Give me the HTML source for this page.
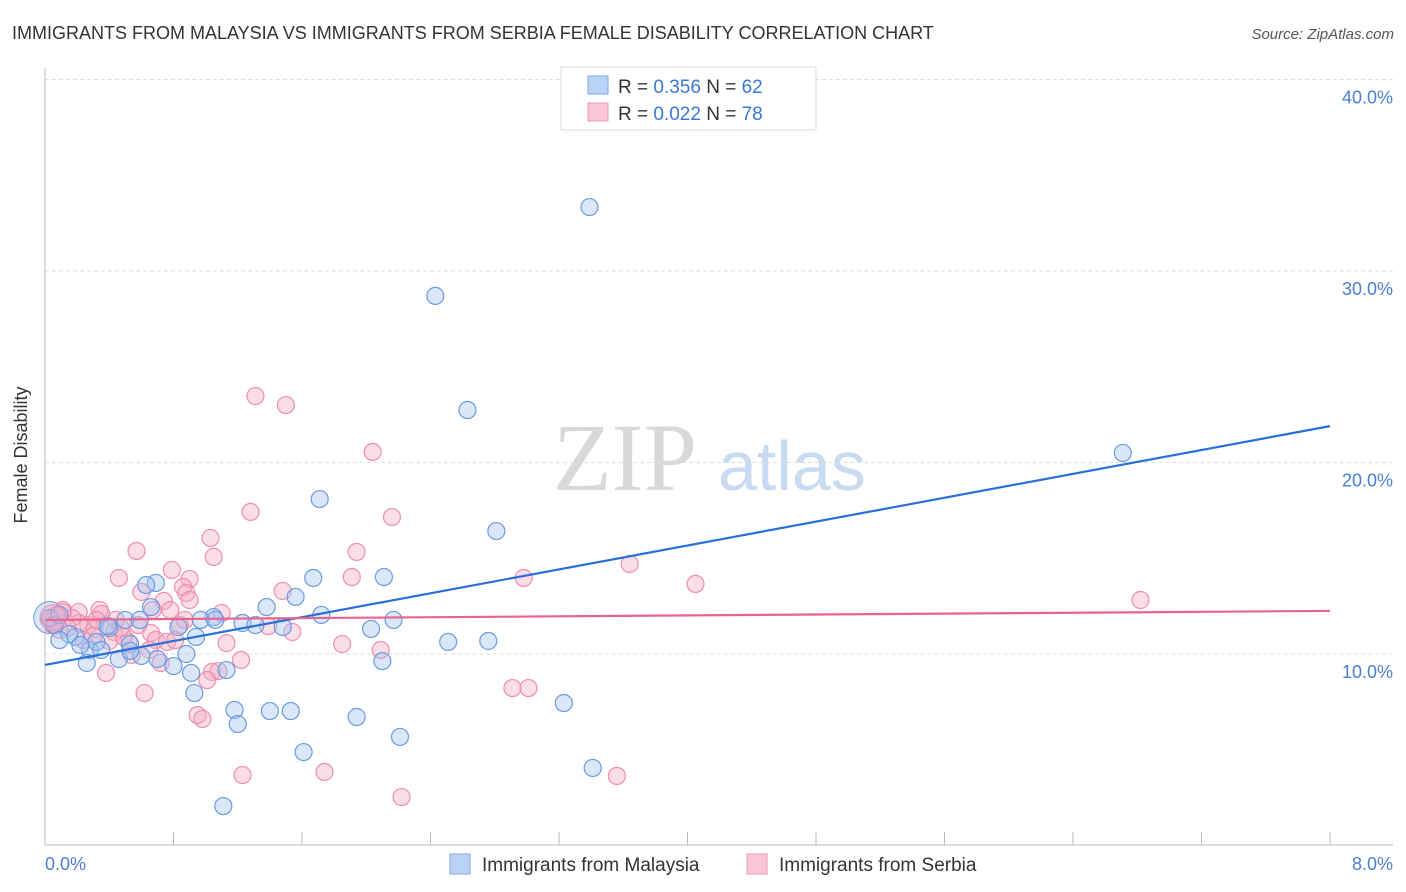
<!DOCTYPE html>
<html><head><meta charset="utf-8"><style>
body{margin:0;background:#fff;font-family:"Liberation Sans",sans-serif;}
svg{display:block}
</style></head><body>
<svg width="1406" height="892">
<text x="12" y="39" font-size="18" fill="#333">IMMIGRANTS FROM MALAYSIA VS IMMIGRANTS FROM SERBIA FEMALE DISABILITY CORRELATION CHART</text>
<text x="1394" y="39" font-size="15" fill="#555" font-style="italic" text-anchor="end">Source: ZipAtlas.com</text>
<g>
<text x="553" y="490" font-size="96" font-family="Liberation Serif,serif" fill="#d8d8d8">ZIP</text>
<text x="718" y="490" font-size="70" fill="#c9dbf1">atlas</text>
</g>
<g id="grid"></g>
<line x1="45" y1="68" x2="45" y2="845" stroke="#bbb"/>
<line x1="45" y1="845" x2="1393" y2="845" stroke="#bbb"/>
<g id="xticks"></g>
<text x="27" y="455" font-size="18" fill="#333" transform="rotate(-90 27 455)" text-anchor="middle">Female Disability</text>
<text x="45" y="870" font-size="18" fill="#4a7fd4">0.0%</text>
<text x="1393" y="870" font-size="18" fill="#4a7fd4" text-anchor="end">8.0%</text>
<g id="pts"></g>
<g id="lines"></g>
<g>
<rect x="561" y="67" width="255" height="63" fill="#fff" stroke="#ddd"/>
<rect x="588" y="76" width="20" height="18" fill="#b8d3f5" stroke="#7ea8e6"/>
<rect x="588" y="103" width="20" height="18" fill="#f9c6d5" stroke="#ee9ab5"/>
<text x="618" y="93" font-size="19" fill="#333">R = <tspan fill="#3a78d6">0.356</tspan>   N = <tspan fill="#3a78d6">62</tspan></text>
<text x="618" y="120" font-size="19" fill="#333">R = <tspan fill="#3a78d6">0.022</tspan>   N = <tspan fill="#3a78d6">78</tspan></text>
</g>
<g>
<rect x="450" y="854" width="20" height="20" fill="#b8d3f5" stroke="#7ea8e6"/>
<text x="482" y="871" font-size="19" fill="#333">Immigrants from Malaysia</text>
<rect x="747" y="854" width="20" height="20" fill="#f9c6d5" stroke="#ee9ab5"/>
<text x="779" y="871" font-size="19" fill="#333">Immigrants from Serbia</text>
</g>
</svg>
<script>
const yTicks=[10,20,30,40];
const xTickVals=[0,0.8,1.6,2.4,3.2,4.0,4.8,5.6,6.4,7.2,8.0];
const blueX=[3.39,2.43,2.63,6.71,1.71,2.81,0.69,0.63,2.11,1.67,1.56,1.38,1.72,2.17,1.05,0.97,0.50,1.23,1.31,1.48,2.03,2.51,2.76,0.66,0.83,0.94,0.40,0.19,0.15,0.06,0.03,0.09,0.28,0.32,0.53,0.88,0.60,0.46,0.70,0.26,0.80,0.91,1.13,2.10,0.93,1.18,1.20,1.40,1.53,1.94,3.23,1.61,2.21,3.41,1.11,0.39,0.22,0.53,1.06,0.59,0.35,0.09];
const blueY=[33.34,28.70,22.74,20.50,18.09,16.42,13.71,13.60,14.02,13.97,12.98,12.45,12.04,11.78,11.93,11.78,11.78,11.62,11.51,11.41,11.31,10.63,10.68,12.45,11.41,10.89,11.36,10.89,11.04,11.51,11.88,10.73,10.21,10.63,10.52,10.00,9.90,9.74,9.74,9.53,9.37,9.01,9.16,9.63,7.96,7.08,6.34,7.02,7.02,6.71,7.44,4.88,5.67,4.05,2.06,11.46,10.47,10.16,11.78,11.78,10.21,12.04];
const pinkX=[1.31,1.50,2.04,2.16,1.28,1.03,0.57,1.94,1.05,3.64,2.98,4.05,6.82,0.46,1.91,0.79,0.90,0.86,0.88,1.48,0.60,0.74,0.67,1.10,0.35,0.21,0.11,0.04,0.27,0.31,0.43,0.52,0.40,0.66,0.69,0.76,0.49,0.84,1.13,1.39,1.54,1.85,2.09,1.22,1.04,1.08,1.01,0.38,0.62,0.95,0.98,1.23,1.74,2.22,2.91,3.01,3.56,0.21,0.17,0.54,0.72,0.14,0.34,0.44,0.07,0.78,0.24,0.05,0.09,0.32,0.90,0.81,0.58,0.87,0.11,0.65,0.47,0.30];
const pinkY=[23.47,23.00,20.55,17.15,17.42,16.06,15.38,15.33,15.07,14.70,13.97,13.66,12.82,13.97,14.02,14.39,13.92,13.50,13.19,13.29,13.24,12.77,12.30,12.14,12.09,12.19,12.30,11.78,11.51,11.31,11.15,10.63,10.68,11.10,10.73,10.63,10.89,11.51,10.57,11.46,11.15,10.52,10.21,9.69,9.06,9.11,8.64,9.01,7.96,6.81,6.61,3.68,3.84,2.53,8.22,8.22,3.63,11.62,11.88,9.95,9.53,11.36,12.30,11.78,12.04,12.30,10.73,11.51,11.26,11.78,12.82,10.73,11.51,11.78,12.19,10.21,11.36,10.94];
const blueTrend=[9.43,21.9];
const pinkTrend=[11.78,12.25];
const NS="http://www.w3.org/2000/svg";
const xs=v=>45+v/8*1285;
const ys=v=>654-(v-10)*19.15;
function mk(tag,attrs,parent){const e=document.createElementNS(NS,tag);for(const k in attrs)e.setAttribute(k,attrs[k]);parent.appendChild(e);return e;}
const grid=document.getElementById('grid');
yTicks.forEach(t=>{
 const l=mk('line',{x1:45,x2:1393,y1:ys(t),y2:ys(t),stroke:'#ddd','stroke-dasharray':'4,3'},grid);
 
 
 const tx=mk('text',{x:1393,y:ys(t)+24,'font-size':18,fill:'#4a7fd4','text-anchor':'end'},grid);
 tx.textContent=t.toFixed(1)+'%';
 
 
});
const xt=document.getElementById('xticks');
xTickVals.forEach(v=>{
 const l=mk('line',{x1:xs(v),x2:xs(v),y1:832,y2:845,stroke:'#bbb'},xt);
 
 
});
const pts=document.getElementById('pts');
function series(X,Y,fill,stroke,name){
 X.forEach((x,i)=>{
  const c=mk('circle',{cx:xs(x),cy:ys(Y[i]),r:8.5,fill:fill,stroke:stroke,'stroke-width':1.2},pts);
  
  
 });
}
const bb=mk('circle',{cx:xs(0.03),cy:ys(11.9),r:16,fill:'rgba(160,196,240,0.4)',stroke:'#6a9be0'},pts);


series(pinkX,pinkY,'rgba(245,170,195,0.4)','#ec8fae','serbia-point');
series(blueX,blueY,'rgba(160,196,240,0.4)','#6a9be0','malaysia-point');
const pb=mk('circle',{cx:xs(0.05),cy:ys(11.9),r:13,fill:'rgba(245,170,195,0.4)',stroke:'#ec8fae'},pts);


const ln=document.getElementById('lines');
const bl=mk('line',{x1:xs(0),y1:ys(blueTrend[0]),x2:xs(8),y2:ys(blueTrend[1]),stroke:'#2a6fd6','stroke-width':2.2},ln);


const pl=mk('line',{x1:xs(0),y1:ys(pinkTrend[0]),x2:xs(8),y2:ys(pinkTrend[1]),stroke:'#e8638f','stroke-width':2.2},ln);


</script>
</body></html>
